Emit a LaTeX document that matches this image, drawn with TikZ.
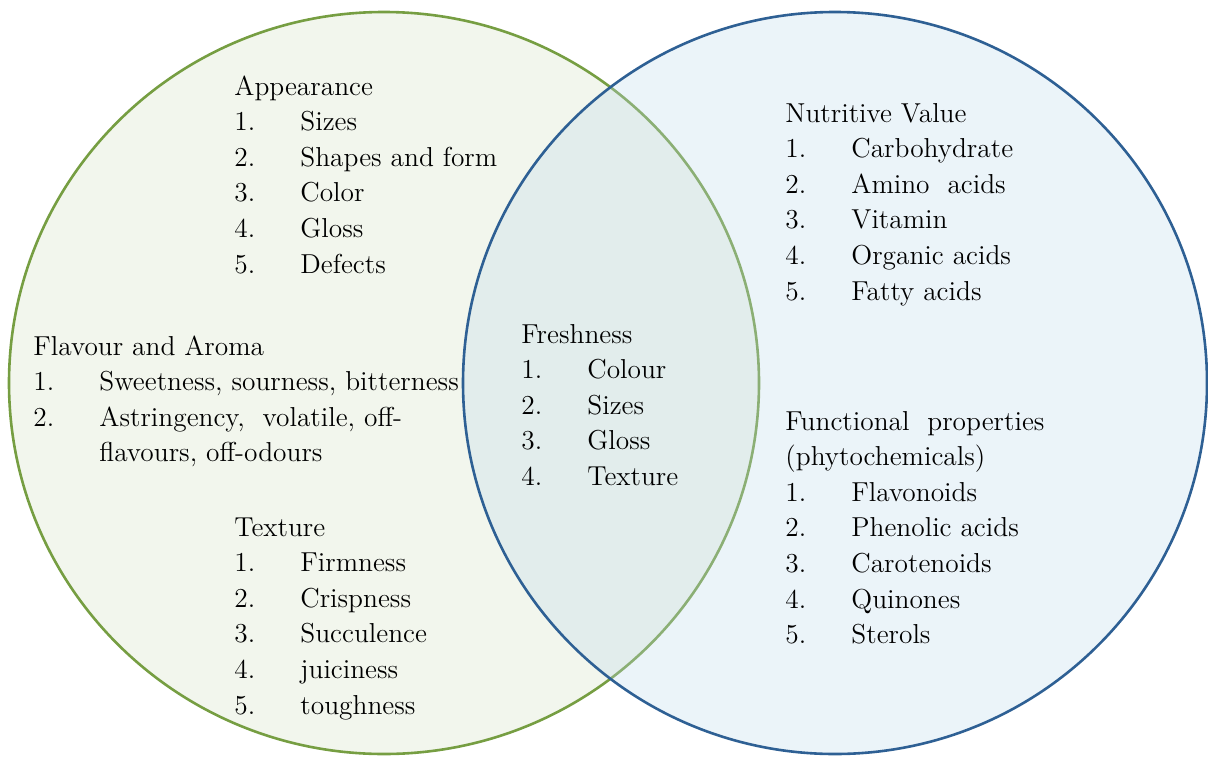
\documentclass[tikz,border=0pt]{standalone}
\usepackage{fontspec}
\usepackage{array}

\definecolor{ringgreen}{RGB}{118,158,66}
\definecolor{ringblue}{RGB}{46,96,148}
\definecolor{fillgreen}{RGB}{242,246,237}
\definecolor{fillblue}{RGB}{190,217,235}

\newcolumntype{N}{@{}p{33pt}@{}>{\color{black}}l@{}}
\newcommand{\hd}[1]{\multicolumn{2}{@{}l@{}}{#1}}

\begin{document}
\begin{tikzpicture}[
  x=0.5pt, y=-0.5pt,
  blk/.style={anchor=base west, inner sep=0pt,
              font=\rmfamily\fontsize{13.7}{17.8}\selectfont},
  ring/.style={line width=1.3pt}
]
\useasboundingbox (0,0) rectangle (1208,760);

% the two sets
\draw[ring, draw=ringgreen, fill=fillgreen] (384,383) ellipse [x radius=187.5pt, y radius=185.5pt];
\fill[fillblue, fill opacity=0.3] (835,383) ellipse [x radius=186pt, y radius=185.5pt];
\draw[ring, draw=ringblue] (835,383) ellipse [x radius=186pt, y radius=185.5pt];

% left set
\node[blk] (app) at (234,95) {\begin{tabular}[t]{N}
  \hd{Appearance}\\ 1. & Sizes\\ 2. & Shapes and form\\
  3. & Color\\ 4. & Gloss\\ 5. & Defects\end{tabular}};
\node[blk] (flav) at (33,355) {\begin{tabular}[t]{N}
  \hd{Flavour and Aroma}\\ 1. & Sweetness, sourness, bitterness\\
  2. & Astringency,\ \ volatile, off-\\ & flavours, off-odours\end{tabular}};
\node[blk] (tex) at (234,536) {\begin{tabular}[t]{N}
  \hd{Texture}\\ 1. & Firmness\\ 2. & Crispness\\
  3. & Succulence\\ 4. & juiciness\\ 5. & toughness\end{tabular}};

% overlap
\node[blk] (fresh) at (521,343) {\begin{tabular}[t]{N}
  \hd{Freshness}\\ 1. & Colour\\ 2. & Sizes\\
  3. & Gloss\\ 4. & Texture\end{tabular}};

% right set
\node[blk] (nutr) at (785,122) {\begin{tabular}[t]{N}
  \hd{Nutritive Value}\\ 1. & Carbohydrate\\ 2. & Amino\ \ acids\\
  3. & Vitamin\\ 4. & Organic acids\\ 5. & Fatty acids\end{tabular}};
\node[blk] (func) at (785,430) {\begin{tabular}[t]{N}
  \hd{Functional\ \ properties}\\ \hd{(phytochemicals)}\\ 1. & Flavonoids\\
  2. & Phenolic acids\\ 3. & Carotenoids\\ 4. & Quinones\\
  5. & Sterols\end{tabular}};
\end{tikzpicture}
\end{document}
